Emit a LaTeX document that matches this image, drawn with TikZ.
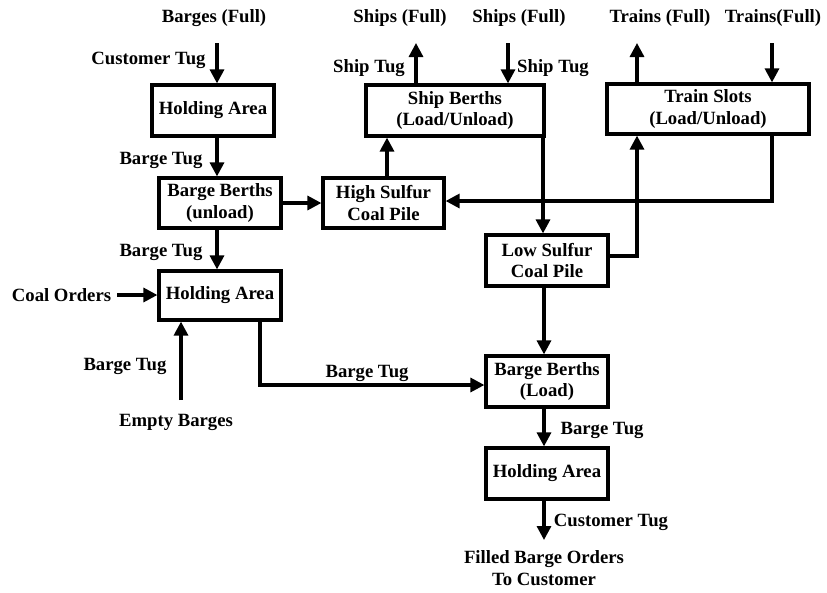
\documentclass[tikz,border=0pt]{standalone}
\usepackage{fontspec}
\setmainfont{Liberation Serif}
\usetikzlibrary{arrows.meta}
\begin{document}
\begin{tikzpicture}[x=1pt,y=-1pt,
  every node/.style={font=\bfseries\fontsize{18.7}{21.5}\selectfont},
  box/.style={draw, line width=3.2pt, minimum height=50pt, inner sep=0pt, align=center},
  lbl/.style={inner sep=0pt, align=center},
  arr/.style={line width=3.2pt, -{Triangle[length=14pt,width=14pt]}},
  ln/.style={line width=3.2pt}]
\useasboundingbox (0,0) rectangle (827,592);
% boxes
\node[box, minimum width=122pt, minimum height=51pt] (ha1) at (213,110.5) {Holding Area};
\node[box, minimum width=122pt] (bbu) at (220,203) {Barge Berths\\(unload)};
\node[box, minimum width=122pt, minimum height=49pt] (ha2) at (220,295.5) {Holding Area};
\node[box, minimum width=121pt] (hs) at (383.5,203) {High Sulfur\\Coal Pile};
\node[box, minimum width=178pt, minimum height=51pt] (sb) at (455,110.5) {Ship Berths\\(Load/Unload)};
\node[box, minimum width=202pt] (ts) at (708,109) {Train Slots\\(Load/Unload)};
\node[box, minimum width=122pt, minimum height=51pt] (ls) at (547,260.5) {Low Sulfur\\Coal Pile};
\node[box, minimum width=122pt, minimum height=51pt] (bbl) at (547,381.5) {Barge Berths\\(Load)};
\node[box, minimum width=122pt, minimum height=51pt] (ha3) at (547,473.5) {Holding Area};
% labels
\node[lbl] (tBF) at (214,18) {Barges (Full)};
\node[lbl] (tCT1) at (148.5,60) {Customer Tug};
\node[lbl] (tBT1) at (161,160) {Barge Tug};
\node[lbl] (tBT2) at (161,252) {Barge Tug};
\node[lbl] (tCO) at (61.5,295) {Coal Orders};
\node[lbl] (tBT3) at (125,366) {Barge Tug};
\node[lbl] (tEB) at (176,422) {Empty Barges};
\node[lbl] (tBT4) at (367,373) {Barge Tug};
\node[lbl] (tSF1) at (400,18) {Ships (Full)};
\node[lbl] (tSF2) at (519,18) {Ships (Full)};
\node[lbl] (tST1) at (369,68) {Ship Tug};
\node[lbl] (tST2) at (553,68) {Ship Tug};
\node[lbl] (tTF1) at (660,18) {Trains (Full)};
\node[lbl] (tTF2) at (773,18) {Trains(Full)};
\node[lbl] (tBT5) at (602,430) {Barge Tug};
\node[lbl] (tCT2) at (611,522) {Customer Tug};
\node[lbl] (tFB) at (544,568) {Filled Barge Orders\\To Customer};
% helper coordinates
\coordinate (x217) at (217,0);
\coordinate (x387) at (387,0);
\coordinate (x416) at (416,0);
\coordinate (x508) at (508,0);
\coordinate (x543) at (543,0);
\coordinate (x544) at (544,0);
\coordinate (x637) at (637,0);
\coordinate (x772) at (772,0);
\coordinate (top) at (0,43);
\coordinate (co) at (117,295);
\coordinate (eb) at (181,400);
\coordinate (k) at (260,385);
\coordinate (y201) at (0,201);
\coordinate (y256) at (0,256);
\coordinate (outB) at (544,540);
% connectors
\draw[arr] (x217 |- top) -- (x217 |- ha1.north);
\draw[arr] (x217 |- ha1.south) -- (x217 |- bbu.north);
\draw[arr] (x217 |- bbu.south) -- (x217 |- ha2.north);
\draw[arr] (co) -- (co -| ha2.west);
\draw[arr] (eb) -- (eb |- ha2.south);
\draw[arr] (k |- ha2.south) -- (k) -- (k -| bbl.west);
\draw[arr] (bbu.east) -- (hs.west);
\draw[arr] (x387 |- hs.north) -- (x387 |- sb.south);
\draw[arr] (x416 |- sb.north) -- (x416 |- top);
\draw[arr] (x508 |- top) -- (x508 |- sb.north);
\draw[arr] (x543 |- sb.south) -- (x543 |- ls.north);
\draw[arr] (x637 |- ts.north) -- (x637 |- top);
\draw[arr] (x772 |- top) -- (x772 |- ts.north);
\draw[arr] (x772 |- ts.south) -- (x772 |- y201) -- (hs.east |- y201);
\draw[arr] (ls.east |- y256) -- (x637 |- y256) -- (x637 |- ts.south);
\draw[arr] (x544 |- ls.south) -- (x544 |- bbl.north);
\draw[arr] (x544 |- bbl.south) -- (x544 |- ha3.north);
\draw[arr] (x544 |- ha3.south) -- (outB);
\end{tikzpicture}
\end{document}
